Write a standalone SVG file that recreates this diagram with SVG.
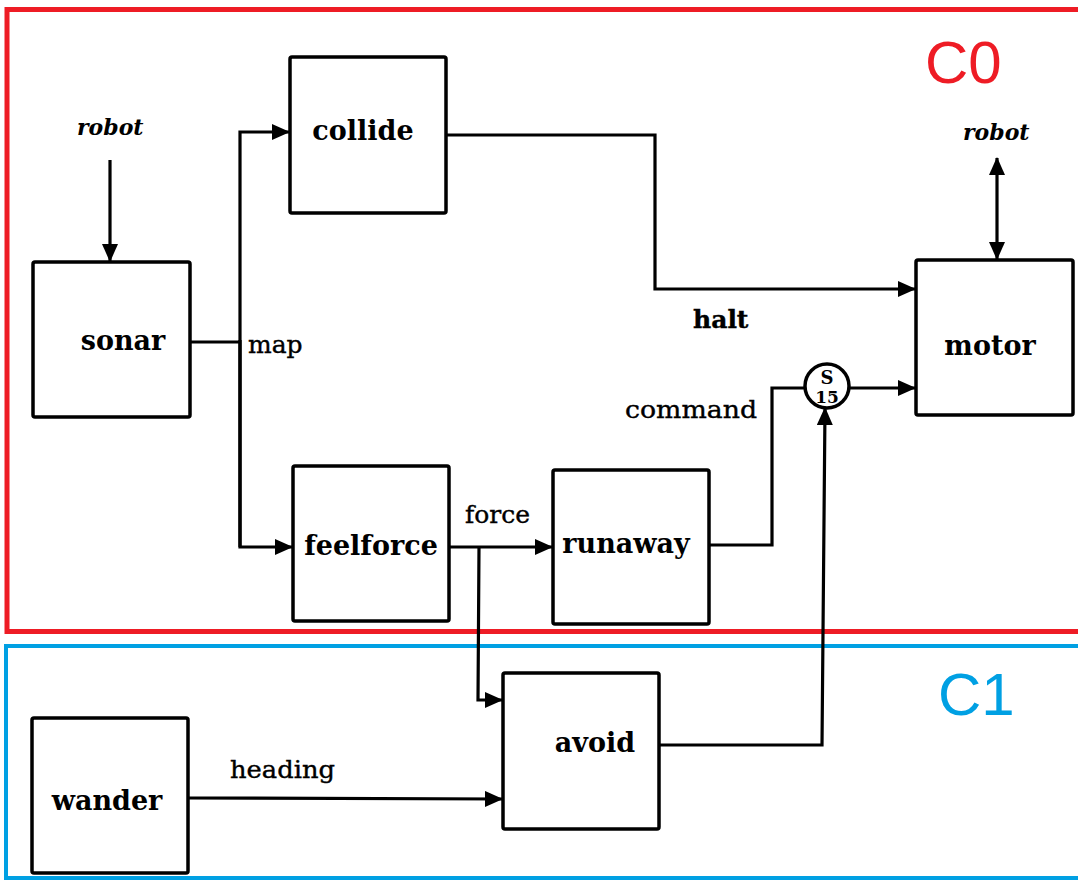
<svg xmlns="http://www.w3.org/2000/svg" width="1078" height="880" viewBox="0 0 1078 880">
<style>
.box{fill:#fff;stroke:#000;stroke-width:3.5}
.ln{fill:none;stroke:#000;stroke-width:3.2}
.nm{font-family:"DejaVu Serif","Liberation Serif",serif;font-weight:bold;font-size:27px;fill:#000}
.lb{font-family:"DejaVu Serif","Liberation Serif",serif;font-size:25px;fill:#000;stroke:#000;stroke-width:0.4}
.it{font-family:"DejaVu Serif","Liberation Serif",serif;font-weight:bold;font-style:italic;font-size:22px;fill:#000}
.big{font-family:"Liberation Sans",Arial,sans-serif;font-size:60px}
</style>
<defs>
<marker id="ah" markerUnits="userSpaceOnUse" markerWidth="18" markerHeight="16" refX="17" refY="8" orient="auto-start-reverse">
<path d="M0,0 L18,8 L0,16 Z" fill="#000"/>
</marker>
</defs>
<rect width="1078" height="880" fill="#fff"/>
<g id="frames">
<rect x="7" y="9.5" width="1080" height="622" fill="none" stroke="#ee1c25" stroke-width="5"/>
<rect x="6" y="646" width="1080" height="232" fill="none" stroke="#00a0e3" stroke-width="4"/>
<text class="big" x="925" y="83" fill="#ee1c25">C0</text>
<text class="big" x="938" y="715" fill="#00a0e3">C1</text>
</g>
<g id="connectors">
<line class="ln" x1="110" y1="160" x2="110" y2="261" marker-end="url(#ah)"/>
<polyline class="ln" points="190,342 240,342"/>
<polyline class="ln" points="240,547 240,132 289,132" marker-end="url(#ah)"/>
<polyline class="ln" points="240,340 240,547 292,547" marker-end="url(#ah)"/>
<polyline class="ln" points="446,135 655,135 655,289 915,289" marker-end="url(#ah)"/>
<line class="ln" x1="449" y1="547" x2="552" y2="547" marker-end="url(#ah)"/>
<polyline class="ln" points="479,547 478,700 502,700" marker-end="url(#ah)"/>
<polyline class="ln" points="709,545 772,545 772,388 805,388"/>
<line class="ln" x1="849" y1="388" x2="915" y2="388" marker-end="url(#ah)"/>
<polyline class="ln" points="659,745 822,745 825,408" marker-end="url(#ah)"/>
<line class="ln" x1="188" y1="798" x2="502" y2="799" marker-end="url(#ah)"/>
<line class="ln" x1="997" y1="158" x2="997" y2="259" marker-start="url(#ah)" marker-end="url(#ah)"/>
<text class="lb" x="248" y="353">map</text>
<text class="lb" x="693" y="328" font-weight="bold" font-size="23" stroke-width="0">halt</text>
<text class="lb" x="625" y="418" textLength="132" lengthAdjust="spacingAndGlyphs">command</text>
<text class="lb" x="465" y="523">force</text>
<text class="lb" x="230" y="778" textLength="105" lengthAdjust="spacingAndGlyphs">heading</text>
<text class="it" x="77" y="135">robot</text>
<text class="it" x="963" y="140">robot</text>
</g>
<g id="suppressor">
<circle cx="827" cy="386" r="22" fill="#fff" stroke="#000" stroke-width="3.5"/>
<text x="827" y="384" text-anchor="middle" font-family="DejaVu Serif,serif" font-weight="bold" font-size="18">S</text>
<text x="827" y="403" text-anchor="middle" font-family="DejaVu Serif,serif" font-weight="bold" font-size="17">15</text>
</g>
<g id="collide"><rect class="box" x="290" y="57" width="156" height="156" rx="2"/><text class="nm" x="363" y="140" text-anchor="middle">collide</text></g>
<g id="sonar"><rect class="box" x="33" y="262" width="157" height="155" rx="2"/><text class="nm" x="123" y="350" text-anchor="middle">sonar</text></g>
<g id="motor"><rect class="box" x="916" y="260" width="157" height="155" rx="2"/><text class="nm" x="990" y="355" text-anchor="middle">motor</text></g>
<g id="feelforce"><rect class="box" x="293" y="466" width="156" height="155" rx="2"/><text class="nm" x="371" y="555" text-anchor="middle">feelforce</text></g>
<g id="runaway"><rect class="box" x="553" y="470" width="156" height="154" rx="2"/><text class="nm" x="626" y="553" text-anchor="middle">runaway</text></g>
<g id="avoid"><rect class="box" x="503" y="673" width="156" height="156" rx="2"/><text class="nm" x="595" y="752" text-anchor="middle">avoid</text></g>
<g id="wander"><rect class="box" x="32" y="718" width="156" height="155" rx="2"/><text class="nm" x="107" y="810" text-anchor="middle">wander</text></g>
</svg>
